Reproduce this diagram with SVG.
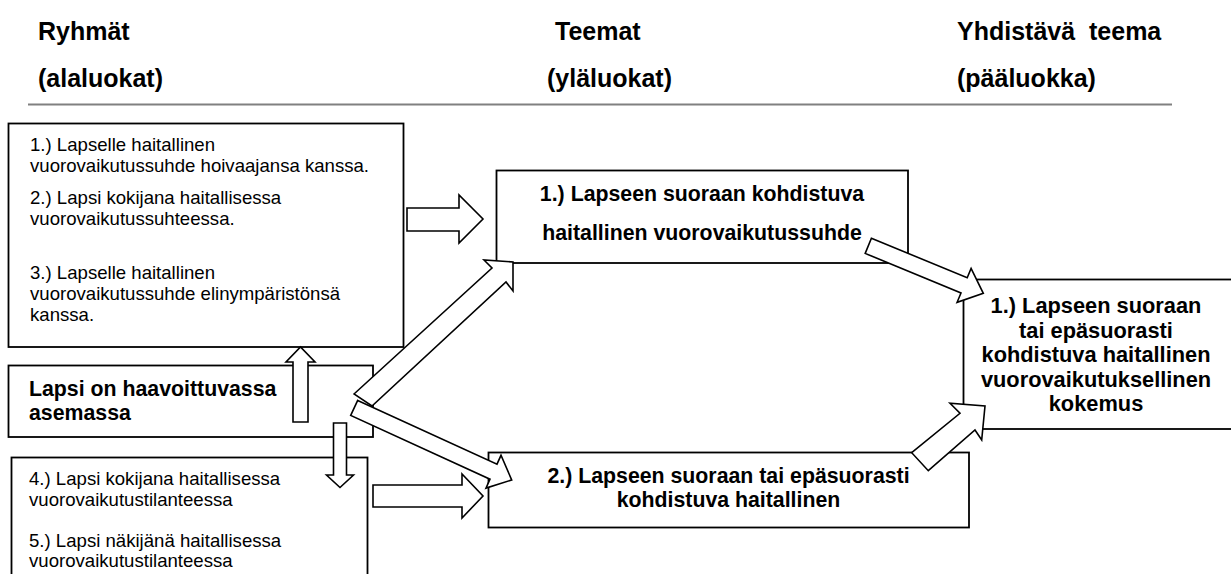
<svg xmlns="http://www.w3.org/2000/svg" width="1231" height="574" viewBox="0 0 1231 574">
  <style>
    .hdr { font-family: "Liberation Sans", Arial, sans-serif; font-weight: bold; font-size: 25px; fill: #000; }
    .body { font-family: "Liberation Sans", Arial, sans-serif; font-size: 18.6px; fill: #000; }
    .bold { font-family: "Liberation Sans", Arial, sans-serif; font-weight: bold; font-size: 21.3px; fill: #000; }
    .big { font-family: "Liberation Sans", Arial, sans-serif; font-weight: bold; font-size: 21.8px; fill: #000; }
    .box { fill: #fff; stroke: #000; stroke-width: 1.8; }
    .arrow { fill: #fff; stroke: #000; stroke-width: 1.6; stroke-linejoin: miter; }
    .mid { text-anchor: middle; }
  </style>

  <rect width="1231" height="574" fill="#fff"/>

  <!-- column headings -->
  <g id="headings">
    <text class="hdr" x="38" y="40">Ryhmät</text>
    <text class="hdr" x="38" y="87">(alaluokat)</text>
    <text class="hdr" x="555" y="40">Teemat</text>
    <text class="hdr" x="547" y="87">(yläluokat)</text>
    <text class="hdr" x="957" y="40" xml:space="preserve">Yhdistävä  teema</text>
    <text class="hdr" x="957" y="87">(pääluokka)</text>
    <line x1="28" y1="104.5" x2="1172" y2="104.5" stroke="#808080" stroke-width="2.2"/>
  </g>

  <!-- sub-categories 1-3 -->
  <g id="groups-1-3">
    <rect class="box" x="8.5" y="123.5" width="395" height="223.5"/>
    <text class="body" x="30" y="151">1.) Lapselle haitallinen</text>
    <text class="body" x="30" y="172">vuorovaikutussuhde hoivaajansa kanssa.</text>
    <text class="body" x="30" y="204">2.) Lapsi kokijana haitallisessa</text>
    <text class="body" x="30" y="225">vuorovaikutussuhteessa.</text>
    <text class="body" x="30" y="279">3.) Lapselle haitallinen</text>
    <text class="body" x="30" y="300">vuorovaikutussuhde elinympäristönsä</text>
    <text class="body" x="30" y="321">kanssa.</text>
  </g>

  <!-- vulnerable position -->
  <g id="vulnerable">
    <rect class="box" x="8.5" y="365.5" width="364.5" height="71.5"/>
    <text class="bold" x="29" y="396">Lapsi on haavoittuvassa</text>
    <text class="bold" x="29" y="420">asemassa</text>
  </g>

  <!-- sub-categories 4-5 -->
  <g id="groups-4-5">
    <rect class="box" x="11.5" y="457.5" width="356" height="140"/>
    <text class="body" x="29" y="485">4.) Lapsi kokijana haitallisessa</text>
    <text class="body" x="29" y="506">vuorovaikutustilanteessa</text>
    <text class="body" x="29" y="547">5.) Lapsi näkijänä haitallisessa</text>
    <text class="body" x="29" y="567">vuorovaikutustilanteessa</text>
  </g>

  <!-- theme 1 -->
  <g id="theme-1">
    <rect class="box" x="496.5" y="170.5" width="411.5" height="92.5"/>
    <text class="bold mid" x="702" y="201">1.) Lapseen suoraan kohdistuva</text>
    <text class="bold mid" x="702" y="240">haitallinen vuorovaikutussuhde</text>
  </g>

  <!-- theme 2 -->
  <g id="theme-2">
    <rect class="box" x="488.5" y="452.5" width="480.5" height="75"/>
    <text class="bold mid" x="728.5" y="483">2.) Lapseen suoraan tai epäsuorasti</text>
    <text class="bold mid" x="728.5" y="507">kohdistuva haitallinen</text>
  </g>

  <!-- main category -->
  <g id="main-theme">
    <rect class="box" x="963.5" y="279.5" width="300" height="149.5"/>
    <text class="big mid" x="1096" y="313">1.) Lapseen suoraan</text>
    <text class="big mid" x="1096" y="337.5">tai epäsuorasti</text>
    <text class="big mid" x="1096" y="362">kohdistuva haitallinen</text>
    <text class="big mid" x="1096" y="386.5">vuorovaikutuksellinen</text>
    <text class="big mid" x="1096" y="411">kokemus</text>
  </g>

  <!-- block arrows -->
  <g id="connectors">
    <polygon class="arrow" points="407,208 459,208 459,195 483,219 459,243 459,231 407,231"/>
    <polygon class="arrow" points="293,422 293,362 286,362 300.5,347 315,362 308,362 308,422"/>
    <polygon class="arrow" points="333.5,423 346.5,423 346.5,475 353.5,475 340,487.5 326.5,475 333.5,475"/>
    <polygon class="arrow" points="354,394 492,268 484,260 513,262 513,291 506,282 372,406"/>
    <polygon class="arrow" points="357.7,400.4 497,464.2 501,455.3 511.7,480 486,488.1 490,479.2 350.7,415.4"/>
    <polygon class="arrow" points="373,485 462,485 462,474 483,496 462,518 462,507 373,507"/>
    <polygon class="arrow" points="871.4,238.2 967.2,277.8 971.1,268.5 983.3,293.3 957.1,302.3 961,293 865.2,253.4"/>
    <polygon class="arrow" points="911.7,452.7 960,413.3 950,403.3 985,406 981.7,440 975,430 928.3,470.7"/>
  </g>
</svg>
